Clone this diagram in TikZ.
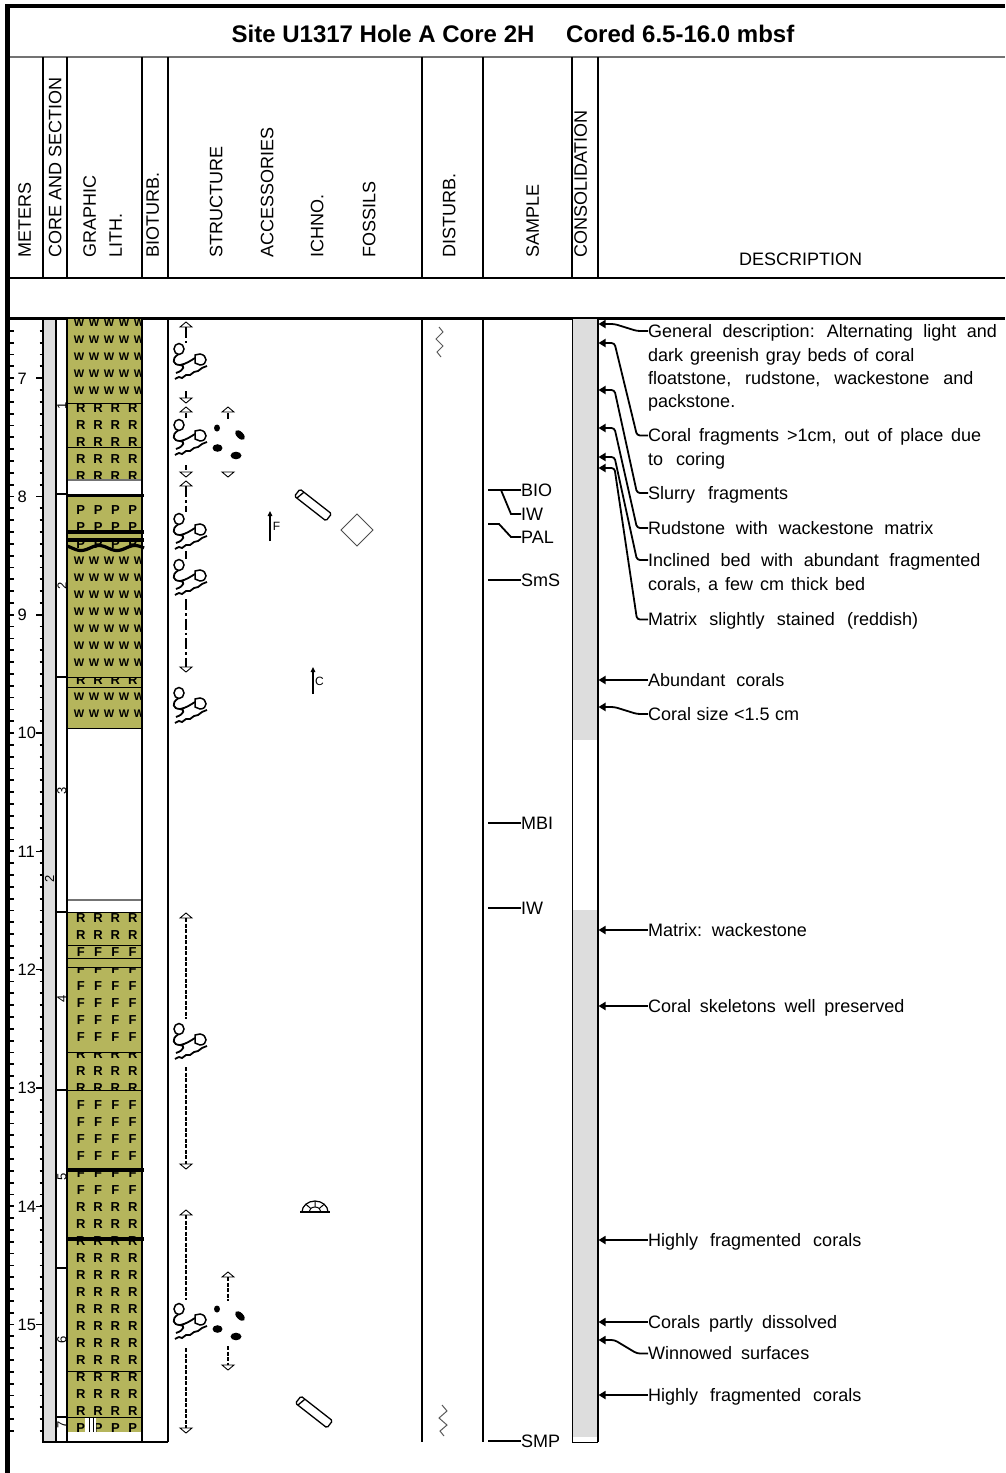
\documentclass[tikz,border=0pt]{standalone}
\usepackage{fontspec}
\setmainfont{Liberation Sans}
\usetikzlibrary{arrows.meta}

\definecolor{lithgreen}{RGB}{181,181,92}
\definecolor{coregray}{RGB}{221,221,221}

\newcommand{\wsym}{\fontsize{11}{11}\selectfont W}
\newcommand{\wcols}{79,94,109,124,139}
\newcommand{\rcols}{80.8,98.1,115.4,132.7}

% one bed of the lithology column: top, bottom, symbol, columns
\newcommand{\bed}[4]{%
  \begin{scope}
    \clip (67,#1) rectangle (142,#2);
    \fill[lithgreen] (67,#1) rectangle (142,#2);
    \pgfmathtruncatemacro{\rowa}{ceil((#1-323)/17)}
    \pgfmathtruncatemacro{\rowb}{ceil((#2-323)/17)-1}
    \ifnum\rowb<\rowa\else
      \foreach \row in {\rowa,...,\rowb}
        \foreach \col [count=\j] in #4
          \node[lith] (b#1-\row-\j) at (\col,{323+17*\row}) {#3};
    \fi
  \end{scope}}

\tikzset{
  head/.style={rotate=90, anchor=west, inner sep=0pt, text height=12.9pt, text depth=0pt, font=\fontsize{18}{20}\selectfont},
  title/.style={anchor=west, inner sep=0pt, text height=17pt, text depth=0pt, font=\bfseries\fontsize{24}{26}\selectfont},
  meter/.style={anchor=west, inner sep=0pt, text height=11.8pt, text depth=0pt, font=\fontsize{16.5}{18}\selectfont},
  secnum/.style={rotate=90, inner sep=0pt, font=\fontsize{13}{13}\selectfont},
  lith/.style={inner sep=0pt, text=black, font=\bfseries\fontsize{13}{13}\selectfont},
  smp/.style={anchor=west, inner sep=0pt, text height=12.9pt, text depth=0pt, font=\fontsize{18}{20}\selectfont},
  desc/.style={anchor=west, inner sep=0pt, text height=12.9pt, text depth=0pt, font={\fontsize{18}{20}\selectfont\spaceskip=#1pt\relax}},
  desc/.default=5,
  code/.style={inner sep=0pt, font=\fontsize{12}{12}\selectfont},
  leader/.style={line width=1.8pt, rounded corners=3pt, -{Triangle[length=7pt,width=8pt]}},
  stick/.style={line width=1.8pt},
  bedline/.style={line width=3.2pt},
  rngA/.style={line width=1.6pt, dash pattern=on 11pt off 3pt on 2.5pt off 3pt},
  rngB/.style={line width=1.5pt, dash pattern=on 4pt off 1.5pt},
  squig/.style={line width=1pt, black!65},
  tup/.pic={\draw[line width=0.9pt, fill=white] (0,0) -- (6,5) -- (-6,5) -- cycle;},
  tdown/.pic={\draw[line width=0.9pt, fill=white] (0,0) -- (6,-5) -- (-6,-5) -- cycle;},
  coral/.pic={
    \draw[line width=1.5pt] (-11,-13) circle[x radius=5, y radius=5.5];
    \draw[line width=1.8pt] (-12,-7.5) .. controls (-19,-3) and (-17,3) .. (-10,3) .. controls (-5,3) and (-5,8) .. (-14,11);
    \draw[line width=1.8pt] (-10,3) .. controls (-4,2) and (0,-1) .. (5,-4);
    \draw[line width=1.5pt] (5,-7) -- (10,-8) .. controls (18,-7) and (18,3) .. (10,3) -- (5,1) -- cycle;
    \draw[line width=1.8pt] plot[smooth] coordinates {(-15,17) (-11,15) (-8,16) (-4,13) (0,13) (4,10) (8,9) (12,6) (17,4)};
  },
  frags/.pic={
    \fill (-11,-13) ellipse[x radius=3, y radius=3.5];
    \fill[rotate around={-45:(12,-6)}] (12,-6) ellipse[x radius=6, y radius=3.3];
    \fill (-10.5,7) ellipse[x radius=5, y radius=3.8];
    \fill (8,14.5) ellipse[x radius=5.5, y radius=3.8];
  },
  pencil/.pic={
    \begin{scope}[rotate=-38]
      \draw[line width=1.3pt, rounded corners=1.5pt] (-20,-4.5) rectangle (20,4.5);
      \draw[line width=1.3pt] (-15,-4.5) -- (-17,4.5);
    \end{scope}
  },
  dome/.pic={
    \draw[line width=1.2pt] (-15,0) -- (15,0);
    \draw[line width=1.2pt] (-13,0) arc[start angle=180, end angle=360, x radius=13, y radius=11];
    \draw[line width=1pt] (-6,0) arc[start angle=180, end angle=360, x radius=6, y radius=5];
    \draw[line width=1pt] (-4.2,-3.5) -- (-9.2,-7.8) (4.2,-3.5) -- (9.2,-7.8) (0,-5) -- (0,-11);
  }
}

\begin{document}
\begin{tikzpicture}[x=1pt, y=-1pt]
  \useasboundingbox (0,0) rectangle (1005,1473);

  % Draw frame
  \draw[line width=5pt] (7.5,4) -- (7.5,1473);
  \draw[line width=4pt] (5,6) -- (1005,6);
  \draw[line width=1.5pt, black!55] (10,57) -- (1005,57);
  \draw[line width=2.6pt] (10,278) -- (1005,278);
  \draw[line width=3pt] (10,318.5) -- (1005,318.5);

  % Draw title
  \node[title] (site) at (231.5,33.5) {Site U1317 Hole A Core 2H};
  \node[title] (cored) at (566,33.5) {Cored 6.5-16.0 mbsf};

  % Draw header
  \foreach \x in {43,67,142,168,422,483,572,598}
    \draw[line width=1.2pt] (\x,57) -- (\x,278);
  \node[head] (meters) at (24.5,258) {METERS};
  \node[head] (coresec) at (55,258) {CORE AND SECTION};
  \node[head] (graphic) at (89.5,258) {GRAPHIC};
  \node[head] (lith) at (115.5,258) {LITH.};
  \node[head] (bioturb) at (152.5,258) {BIOTURB.};
  \node[head] (structure) at (216,258) {STRUCTURE};
  \node[head] (access) at (267,258) {ACCESSORIES};
  \node[head] (ichno) at (317,258) {ICHNO.};
  \node[head] (fossils) at (369,258) {FOSSILS};
  \node[head] (disturb) at (449,258) {DISTURB.};
  \node[head] (sample) at (532.5,258) {SAMPLE};
  \node[head] (consol) at (580.5,258) {CONSOLIDATION};
  \node[smp] (descr) at (739,259) {DESCRIPTION};

  % Draw depth scale
  \foreach \i in {1,...,94} {
    \pgfmathsetmacro{\ty}{319+11.83*\i}
    \draw[line width=1.8pt] (10,\ty) -- (13.5,\ty);
    \draw[line width=1.8pt] (39.5,\ty) -- (43,\ty);
  }
  \foreach \m in {7,...,15} {
    \pgfmathsetmacro{\ty}{319+118.3*(\m-6.5)}
    \draw[line width=1.5pt] (36,\ty) -- (43,\ty);
    \node[meter] (m\m) at (17.5,\ty) {\m};
  }

  % Draw core and sections
  \draw[line width=1.2pt, fill=coregray] (43,319) rectangle (56,1442);
  \foreach \y in {494,677,912,1090,1268,1417}
    \draw[line width=1.2pt] (56,\y) -- (67,\y);
  \foreach \n/\y in {1/406,2/586,3/791,4/999,5/1177,6/1340,7/1425}
    \node[secnum] (sec\n) at (62,\y) {\n};
  \node[secnum] (core2) at (49.5,879) {2};

  % Draw lithology
  \bed{319}{403}{\wsym}{\wcols}
  \bed{403}{447}{R}{\rcols}
  \bed{447}{480}{R}{\rcols}
  \bed{494}{548}{P}{\rcols}
  \bed{548}{677}{\wsym}{\wcols}
  \bed{677}{687}{R}{\rcols}
  \bed{687}{728}{\wsym}{\wcols}
  \bed{912}{945}{R}{\rcols}
  \bed{945}{958}{F}{\rcols}
  \bed{958}{967}{R}{\rcols}
  \bed{967}{1052}{F}{\rcols}
  \bed{1052}{1090}{R}{\rcols}
  \bed{1090}{1200}{F}{\rcols}
  \bed{1200}{1371}{R}{\rcols}
  \bed{1371}{1417}{R}{\rcols}
  \bed{1417}{1432}{P}{\rcols}
  \fill[white] (85,1417.5) rectangle (96,1432);
  \draw[line width=1pt] (89,1417.5) -- (89,1432) (93,1417.5) -- (93,1432);
  \foreach \y in {403,447,677,687,728,912,945,958,967,1052,1090,1371,1417}
    \draw[line width=1pt] (67,\y) -- (142,\y);
  \foreach \y in {480,900}
    \draw[line width=1.2pt, black!55] (67,\y) -- (142,\y);
  \foreach \y in {495.5,532,540,1170,1239}
    \draw[bedline] (67,\y) -- (144,\y);
  \draw[bedline] plot[domain=67:144, samples=50, smooth] (\x,{548+2.5*sin(10*\x)});

  % Draw column lines
  \draw[line width=1.5pt] (67,318) -- (67,1442);
  \draw[line width=1.5pt] (142,318) -- (142,1442);
  \draw[line width=1.2pt] (168,318) -- (168,1442);
  \draw[line width=1.5pt] (43,1442) -- (168,1442);
  \draw[line width=1.5pt] (422,318) -- (422,1442);
  \draw[line width=1.5pt] (483,318) -- (483,1442);

  % Draw structures
  \pic at (186,322) {tup};
  \draw[rngA] (186,327) -- (186,343);
  \pic at (190,362) {coral};
  \draw[line width=1.6pt] (186,391) -- (186,398);
  \pic at (186,403) {tdown};
  \pic at (186,407) {tup};
  \draw[line width=1.6pt] (186,413) -- (186,418);
  \pic at (190,438) {coral};
  \draw[line width=1.6pt] (186,465) -- (186,470);
  \pic at (186,477) {tdown};
  \pic at (186,481) {tup};
  \draw[rngA] (186,486) -- (186,512);
  \pic at (190,532) {coral};
  \draw[rngA] (186,551) -- (186,559);
  \pic at (190,578) {coral};
  \draw[rngA] (186,599) -- (186,667);
  \pic at (186,672) {tdown};
  \pic at (190,706) {coral};
  \pic at (228,407) {tup};
  \draw[line width=1.6pt] (228,413) -- (228,419);
  \pic at (228,441) {frags};
  \pic at (228,477) {tdown};

  \pic at (186,913) {tup};
  \draw[rngB] (186,918) -- (186,1019);
  \pic at (190,1042) {coral};
  \draw[rngB] (186,1067) -- (186,1164);
  \pic at (186,1169) {tdown};
  \pic at (186,1210) {tup};
  \draw[rngB] (186,1215) -- (186,1300);
  \pic at (190,1322) {coral};
  \draw[rngB] (186,1348) -- (186,1428);
  \pic at (186,1433) {tdown};
  \pic at (228,1272) {tup};
  \draw[rngB] (228,1277) -- (228,1301);
  \pic at (228,1322) {frags};
  \draw[rngB] (228,1346) -- (228,1365);
  \pic at (228,1370) {tdown};

  % Draw accessories and fossils
  \draw[line width=1.3pt, -{Triangle[length=5pt,width=4.5pt]}] (270,541) -- (270,511);
  \node[code] (fcode) at (276.5,526) {F};
  \pic at (313,505) {pencil};
  \draw[line width=1pt, black!70] (357,514) -- (373,530) -- (357,546) -- (341,530) -- cycle;
  \draw[line width=1.3pt, -{Triangle[length=5pt,width=4.5pt]}] (313,694) -- (313,667);
  \node[code] (ccode) at (319.5,681) {C};
  \pic at (315,1212) {dome};
  \pic at (314,1412) {pencil};

  % Draw disturbance
  \draw[squig] (439,327) -- (443,332) -- (436,339) -- (443,346) -- (437,352) -- (441,357);
  \draw[squig] (442,1405) -- (447,1411) -- (439,1418) -- (447,1425) -- (440,1431) -- (444,1436);

  % Draw samples
  \node[smp] (bio) at (521,490) {BIO};
  \draw[stick] (bio.west) -- ++(-33,0);
  \node[smp] (iw1) at (521,514) {IW};
  \draw[stick] (iw1.west) -- ++(-10,0) -- ++(-10,-24);
  \node[smp] (pal) at (521,537) {PAL};
  \draw[stick] (pal.west) -- ++(-10,0) -- ++(-12,-13) -- ++(-11,0);
  \node[smp] (sms) at (521,580) {SmS};
  \draw[stick] (sms.west) -- ++(-33,0);
  \node[smp] (mbi) at (521,823) {MBI};
  \draw[stick] (mbi.west) -- ++(-33,0);
  \node[smp] (iw2) at (521,908) {IW};
  \draw[stick] (iw2.west) -- ++(-33,0);
  \node[smp] (smpl) at (521,1441) {SMP};
  \draw[stick] (smpl.west) -- ++(-33,0);

  % Draw consolidation
  \fill[coregray] (572,319) rectangle (598,740);
  \fill[coregray] (572,910) rectangle (598,1437);
  \draw[line width=1pt] (572,318) -- (572,1442) -- (598,1442);
  \draw[line width=2pt] (598,318) -- (598,1442);

  % Draw description
  \foreach \n/\y in {1/324,2/343,3/390,4/428,5/457,6/468,7/680,8/707,9/930,10/1006,11/1240,12/1322,13/1340,14/1395}
    \coordinate (a\n) at (598.5,\y);
  \node[desc=10.5] (d1) at (648,331) {General description: Alternating light and};
  \node[desc=6.8] (d1b) at (648,355) {dark greenish gray beds of coral};
  \node[desc=14] (d1c) at (648,378) {floatstone, rudstone, wackestone and};
  \node[desc] (d1d) at (648,401) {packstone.};
  \node[desc=7.9] (d2) at (648,435.5) {Coral fragments >1cm, out of place due};
  \node[desc=13] (d2b) at (648,459) {to coring};
  \node[desc=13] (d3) at (648,493) {Slurry fragments};
  \node[desc=10.7] (d4) at (648,528) {Rudstone with wackestone matrix};
  \node[desc=10.5] (d5) at (648,560) {Inclined bed with abundant fragmented};
  \node[desc=7] (d5b) at (648,584) {corals, a few cm thick bed};
  \node[desc=12.3] (d6) at (648,619.5) {Matrix slightly stained (reddish)};
  \node[desc=11] (d7) at (648,680) {Abundant corals};
  \node[desc=5.5] (d8) at (648,714) {Coral size <1.5 cm};
  \node[desc=8] (d9) at (648,930) {Matrix: wackestone};
  \node[desc=8.7] (d10) at (648,1006) {Coral skeletons well preserved};
  \node[desc=12] (d11) at (648,1240) {Highly fragmented corals};
  \node[desc=9] (d12) at (648,1322) {Corals partly dissolved};
  \node[desc=9] (d13) at (648,1353.5) {Winnowed surfaces};
  \node[desc=12] (d14) at (648,1395) {Highly fragmented corals};
  \foreach \n in {1,2,3,4,5,6,8,13}
    \draw[leader] (d\n.west) -- ++(-11,0) -- ([xshift=16pt]a\n) -- (a\n);
  \foreach \n in {7,9,10,11,12,14}
    \draw[leader] (d\n.west) -- (a\n);
\end{tikzpicture}
\end{document}
